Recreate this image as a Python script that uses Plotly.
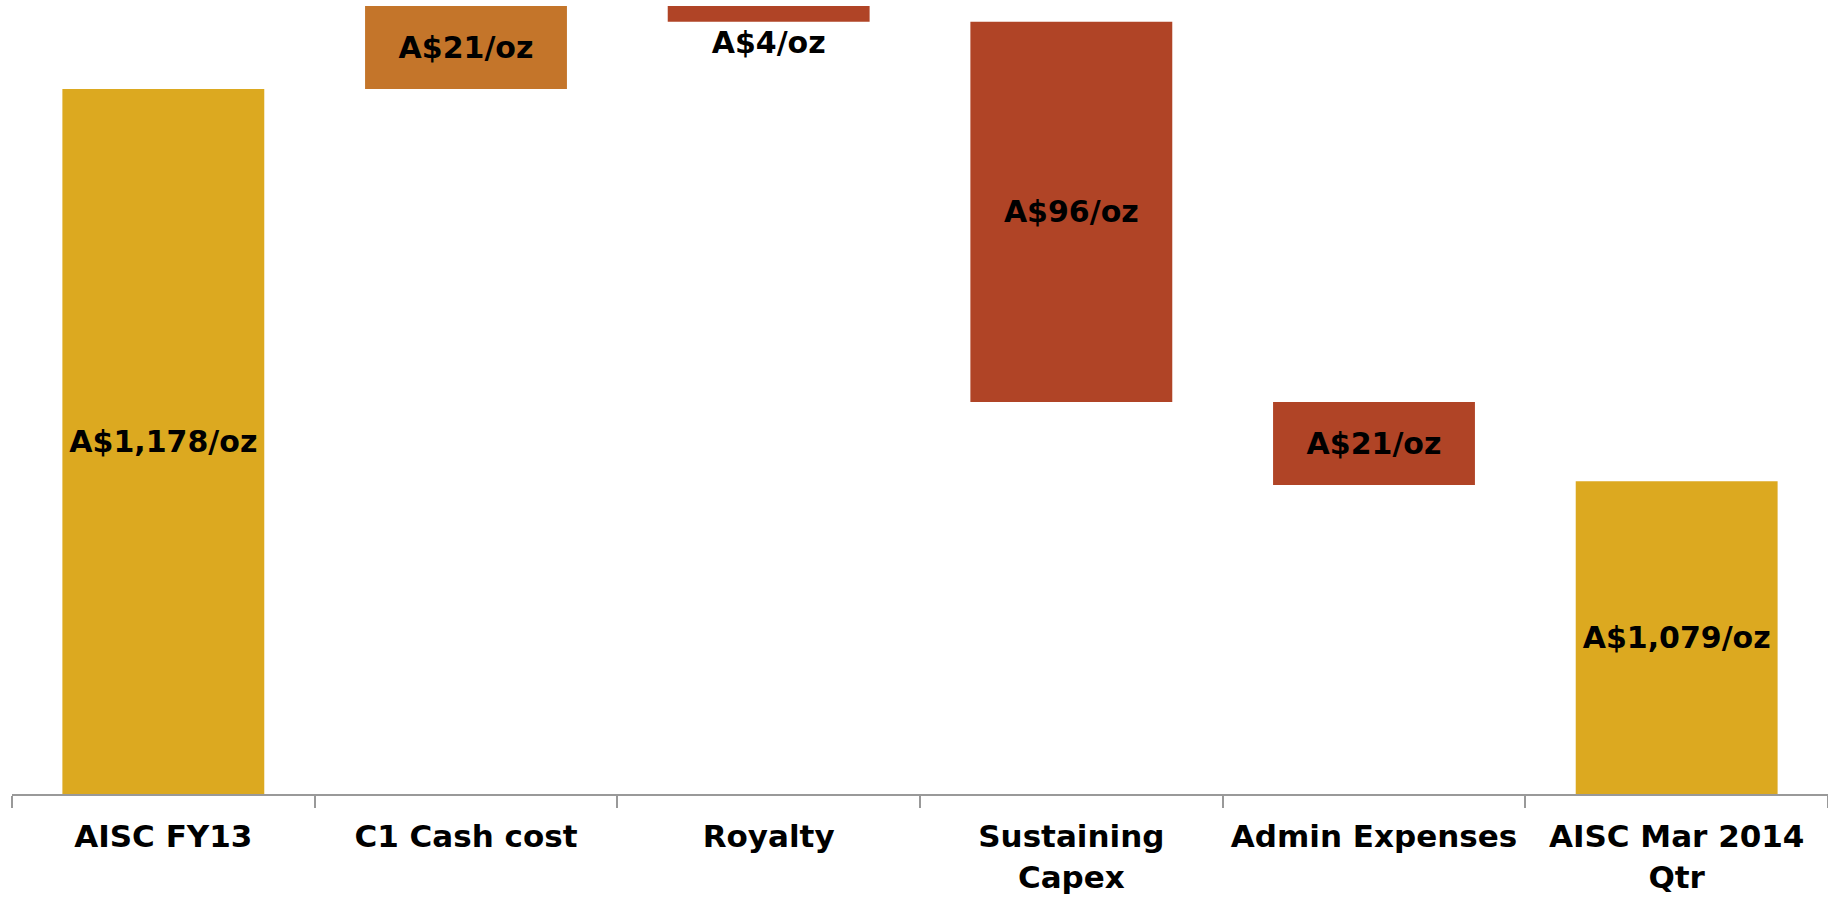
import plotly.graph_objects as go

categories = ["AISC FY13", "C1 Cash cost", "Royalty", "Sustaining Capex", "Admin Expenses", "AISC Mar 2014 Qtr"]
tick_labels = ["AISC FY13", "C1 Cash cost", "Royalty", "Sustaining<br>Capex", "Admin Expenses", "AISC Mar 2014<br>Qtr"]
measures = ["absolute", "relative", "relative", "relative", "relative", "absolute"]
values = [1178, 21, -4, -96, -21, 1079]
bar_labels = ["A$1,178/oz", "A$21/oz", "A$4/oz", "A$96/oz", "A$21/oz", "A$1,079/oz"]
label_positions = ["inside", "inside", "outside", "inside", "inside", "inside"]

AXIS_START = 1000  # value axis starts at A$1,000/oz
FONT = "DejaVu Sans"

# waterfall drawn from the axis start: absolute values are offset by the base
y_vals = [v - AXIS_START if m == "absolute" else v for v, m in zip(values, measures)]

fig = go.Figure(go.Waterfall(
    x=categories,
    y=y_vals,
    base=AXIS_START,
    measure=measures,
    text=["<b>" + t + "</b>" for t in bar_labels],
    textposition=label_positions,
    insidetextanchor="middle",
    constraintext="none",
    textfont=dict(family=FONT, size=30, color="black"),
    width=0.667,
    increasing=dict(marker=dict(color="#C4752A")),
    decreasing=dict(marker=dict(color="#B04426")),
    totals=dict(marker=dict(color="#DCA920")),
    connector=dict(visible=False),
    cliponaxis=False,
    hoverinfo="skip",
))

fig.update_layout(
    width=1828, height=899,
    margin=dict(l=12, r=0, t=0, b=105),
    paper_bgcolor="white", plot_bgcolor="white",
    showlegend=False,
    font=dict(family=FONT, color="black"),
)
fig.update_xaxes(
    tickmode="array",
    tickvals=categories,
    ticktext=["<b>" + t + "</b>" for t in tick_labels],
    tickfont=dict(family=FONT, size=31, color="black"),
    showline=True, linecolor="#999999", linewidth=2,
    ticks="outside", tickson="boundaries", ticklen=12, tickcolor="#999999", tickwidth=2,
    showgrid=False, zeroline=False,
    ticklabelstandoff=14,
    range=[-0.5, 5.5],
)
fig.update_yaxes(range=[AXIS_START, 1200.5], visible=False, showgrid=False, zeroline=False)

fig.write_html("out.html", config={"displayModeBar": False},
               post_script="document.body.style.margin='0';")
